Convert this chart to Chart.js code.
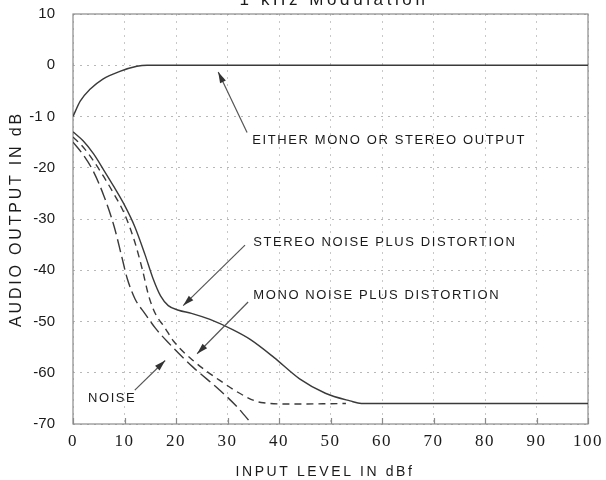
<!DOCTYPE html>
<html><head><meta charset="utf-8">
<script src="https://cdn.jsdelivr.net/npm/chart.js@4.4.1/dist/chart.umd.min.js"></script>
<style>html,body{margin:0;padding:0;background:#fff}#wrap{width:606px;height:480px}</style>
</head><body><div id="wrap"><canvas id="c" width="606" height="480"></canvas></div>
<script>
// ---- chart data ----
const chartTitle = '1 kHz Modulation';
const xAxisTitle = 'INPUT LEVEL IN dBf';
const yAxisTitle = 'AUDIO OUTPUT IN dB';
const xTickValues = [0, 10, 20, 30, 40, 50, 60, 70, 80, 90, 100];
const yTickValues = [10, 0, -10, -20, -30, -40, -50, -60, -70];
const yTickLabels = ['10', '0', '-1 0', '-20', '-30', '-40', '-50', '-60', '-70'];

const eitherX = [0, 1.4, 3.3, 5.8, 9.1, 12.4, 14.4, 30, 60, 100];
const eitherY = [-10, -7, -4.7, -2.7, -1.2, -0.2, 0, 0, 0, 0];

const stereoX = [0, 2, 4, 6, 8, 10, 12, 14, 15.5, 17, 18.5, 20.5, 23, 26.6, 31, 34.4, 39, 44, 49, 53.8, 56, 70, 100];
const stereoY = [-13, -14.8, -17.3, -20.5, -23.8, -27.3, -31.5, -37, -41.5, -45, -46.9, -47.8, -48.4, -49.6, -51.6, -53.5, -57, -61.2, -64, -65.5, -66, -66, -66];

const monoX = [0, 2, 4, 6, 8, 10, 12, 13.5, 14.7, 16, 17.7, 19.5, 23.3, 28.5, 33.8, 36.5, 42.7, 53];
const monoY = [-14, -16, -18.7, -21.8, -25.2, -29, -34.5, -40, -45, -48.5, -51, -53.8, -57.6, -61.5, -64.8, -65.8, -66.1, -66];

const noiseX = [0, 2, 4, 6, 8, 9.5, 10.5, 12, 14, 16, 18.3, 23.3, 28.5, 32, 34.7];
const noiseY = [-15, -17.5, -20.8, -25.5, -31.5, -37.5, -41.5, -45.5, -48.5, -51.3, -53.9, -58.9, -63.4, -66.8, -70];

const seriesNames = ['EITHER MONO OR STEREO OUTPUT', 'STEREO NOISE PLUS DISTORTION', 'MONO NOISE PLUS DISTORTION', 'NOISE'];

// ---- annotation layout (data coordinates) ----
const annotations = [
  { text: seriesNames[0], tx: 34.8, ty: -14.6, from: [33.8, -13.1], to: [28.2, -1.3] },
  { text: seriesNames[1], tx: 35.0, ty: -34.5, from: [33.4, -35.1], to: [21.4, -46.9] },
  { text: seriesNames[2], tx: 35.0, ty: -44.9, from: [34.0, -46.2], to: [24.1, -56.3] },
  { text: seriesNames[3], tx: 2.9, ty: -65.0, from: [12.0, -63.4], to: [17.9, -57.6] }
];

const zip = (xs, ys) => xs.map((x, i) => ({ x: x, y: ys[i] }));
const lineColor = '#3a3a3a';

const decor = {
  id: 'decor',
  afterLayout(chart) {
    const ys = chart.scales.y;
    if (!ys._lsWrapped) {
      const orig = ys.drawLabels;
      ys.drawLabels = function (area) {
        const c = this.ctx, prev = c.letterSpacing;
        c.letterSpacing = '0px';
        orig.call(this, area);
        c.letterSpacing = prev;
      };
      ys._lsWrapped = true;
    }
  },
  beforeDraw(chart) { chart.ctx.letterSpacing = '1.5px'; },
  beforeDatasetsDraw(chart) {
    const ctx = chart.ctx, a = chart.chartArea, xs = chart.scales.x;
    ctx.save();
    ctx.letterSpacing = '0px';
    ctx.strokeStyle = '#8a8a8a';
    ctx.lineWidth = 1.2;
    ctx.strokeRect(a.left, a.top, a.right - a.left, a.bottom - a.top);
    ctx.beginPath();
    xTickValues.forEach(v => {
      const px = Math.round(xs.getPixelForValue(v)) + 0.5;
      ctx.moveTo(px, a.bottom); ctx.lineTo(px, a.bottom - 6);
    });
    ctx.stroke();
    ctx.restore();
  },
  afterDatasetsDraw(chart) {
    const ctx = chart.ctx, xs = chart.scales.x, ys = chart.scales.y, a = chart.chartArea;
    ctx.save();
    annotations.forEach(an => {
      const x1 = xs.getPixelForValue(an.from[0]), y1 = ys.getPixelForValue(an.from[1]);
      const x2 = xs.getPixelForValue(an.to[0]), y2 = ys.getPixelForValue(an.to[1]);
      ctx.strokeStyle = '#555'; ctx.fillStyle = '#333'; ctx.lineWidth = 1.2;
      ctx.beginPath(); ctx.moveTo(x1, y1); ctx.lineTo(x2, y2); ctx.stroke();
      const ang = Math.atan2(y2 - y1, x2 - x1), L = 11, W = 3.2;
      const bx = x2 - L * Math.cos(ang), by = y2 - L * Math.sin(ang);
      ctx.beginPath();
      ctx.moveTo(x2, y2);
      ctx.lineTo(bx + W * Math.sin(ang), by - W * Math.cos(ang));
      ctx.lineTo(bx - W * Math.sin(ang), by + W * Math.cos(ang));
      ctx.closePath(); ctx.fill();
      ctx.fillStyle = '#1a1a1a';
      ctx.font = '13px "Liberation Sans", Arial, sans-serif';
      ctx.letterSpacing = '1.6px';
      ctx.textAlign = 'left'; ctx.textBaseline = 'middle';
      ctx.fillText(an.text, xs.getPixelForValue(an.tx), ys.getPixelForValue(an.ty));
    });
    // chart title (cut off at top as in the reference)
    ctx.fillStyle = '#1a1a1a';
    ctx.font = '17px "Liberation Sans", Arial, sans-serif';
    ctx.letterSpacing = '3.6px';
    ctx.textAlign = 'center'; ctx.textBaseline = 'alphabetic';
    ctx.fillText(chartTitle, 334, 5);
    // x axis title
    ctx.font = '14px "Liberation Sans", Arial, sans-serif';
    ctx.letterSpacing = '2.6px';
    ctx.textBaseline = 'middle';
    ctx.fillText(xAxisTitle, 325, 472);
    // y axis title
    ctx.translate(17, (a.top + a.bottom) / 2);
    ctx.rotate(-Math.PI / 2);
    ctx.font = '16px "Liberation Sans", Arial, sans-serif';
    ctx.letterSpacing = '2.8px';
    ctx.fillText(yAxisTitle, 0, 0);
    ctx.restore();
  },
  afterDraw(chart) { chart.ctx.letterSpacing = '0px'; }
};

const mk = (label, xs, ys, dash) => ({
  label: label,
  data: zip(xs, ys),
  borderColor: lineColor,
  borderWidth: 1.4,
  borderDash: dash,
  pointRadius: 0,
  fill: false,
  cubicInterpolationMode: 'monotone'
});

new Chart(document.getElementById('c'), {
  type: 'line',
  data: {
    datasets: [
      mk(seriesNames[0], eitherX, eitherY, []),
      mk(seriesNames[1], stereoX, stereoY, []),
      mk(seriesNames[2], monoX, monoY, [7, 5]),
      mk(seriesNames[3], noiseX, noiseY, [13, 5])
    ]
  },
  options: {
    responsive: false,
    devicePixelRatio: 1,
    animation: false,
    layout: { padding: { top: 14, right: 18, left: 0, bottom: 0 } },
    plugins: { legend: { display: false }, title: { display: false }, tooltip: { enabled: false } },
    scales: {
      x: {
        type: 'linear', min: 0, max: 100,
        afterBuildTicks: s => { s.ticks = xTickValues.map(v => ({ value: v })); },
        afterFit: s => { s.height = 56; s.paddingLeft = 0; s.paddingRight = 0; },
        grid: { color: '#c8c8c8', drawTicks: false, lineWidth: 1 },
        border: { display: false, dash: [2, 5] },
        ticks: { padding: 7, color: '#1a1a1a', font: { family: '"Liberation Serif", "Times New Roman", serif', size: 17 }, maxRotation: 0, autoSkip: false }
      },
      y: {
        type: 'linear', min: -70, max: 10,
        afterBuildTicks: s => { s.ticks = yTickValues.map(v => ({ value: v })); },
        afterFit: s => { s.width = 73; s.paddingTop = 0; s.paddingBottom = 0; },
        grid: { color: '#b8b8b8', drawTicks: false, lineWidth: 1 },
        border: { display: false, dash: [2, 5] },
        ticks: {
          padding: 18, color: '#1a1a1a',
          font: { family: '"Liberation Sans", Arial, sans-serif', size: 15 },
          callback: v => yTickLabels[yTickValues.indexOf(v)]
        }
      }
    }
  },
  plugins: [decor]
});
</script>
</body></html>
